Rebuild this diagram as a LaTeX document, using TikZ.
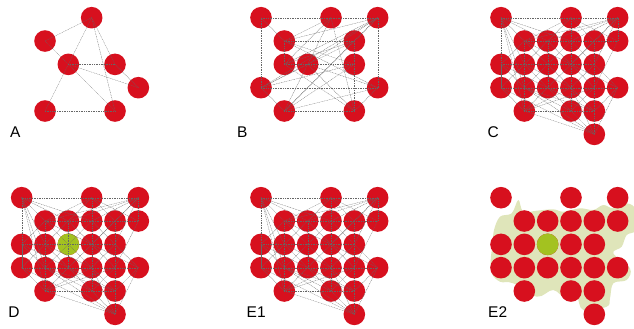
\documentclass[tikz,border=0pt]{standalone}
\usepackage{fontspec}
\setmainfont{Liberation Sans}
\usepackage{xcolor}
\usepackage{tikz}

\definecolor{cellred}{RGB}{215,16,30}
\definecolor{cellgreen}{RGB}{163,194,32}
\definecolor{haze}{RGB}{223,229,186}

\newcommand{\cellgap}{23.33}
% cells of panels C, D, E1, E2 (column/row)
\newcommand{\fullset}{0/0,3/0,5/0,1/1,2/1,3/1,4/1,5/1,0/2,1/2,2/2,3/2,4/2,0/3,1/3,2/3,3/3,4/3,5/3,1/4,3/4,4/4,4/5}
\newcommand{\meshedges}{00/30,30/50,00/11,00/21,00/31,00/02,00/12,00/03,00/13,00/14,30/21,30/31,30/41,30/11,30/51,50/51,50/41,50/31,50/21,50/11,50/42,50/32,11/21,21/31,31/41,41/51,02/12,12/22,22/32,32/42,03/13,13/23,23/33,33/43,43/53,11/12,12/13,13/14,21/22,22/23,31/32,32/33,33/34,41/42,42/43,43/44,44/45,02/03,11/22,21/32,31/42,12/23,22/33,32/43,21/12,31/22,41/32,22/13,32/23,42/33,23/34,23/14,33/44,43/34,02/13,12/03,11/32,02/23,12/33,13/34,23/44,13/44,14/34,14/44,14/43,14/33,45/14,45/03,45/34,45/33,45/53,45/13,53/44,53/42,53/32,51/43,02/11,03/14}

\begin{document}
\begin{tikzpicture}[
  x=1pt,y=-1pt,
  dot/.style={circle,fill=cellred,inner sep=0pt,minimum size=21.6pt},
  seed/.style={dot,fill=cellgreen},
  link/.style={black!60,line width=0.28pt,dash pattern=on 1pt off 0.7pt},
  tag/.style={font=\fontsize{15.5}{16}\selectfont,anchor=base west,inner sep=0pt},
  blob/.style={fill=haze,draw=none}
]
\useasboundingbox (0,0) rectangle (634,329);

% A
\begin{scope}[shift={(21.7,17.7)}]
  \foreach \c/\r in {3/0,1/1,2/2,4/2,5/3,1/4,4/4}
    \node[dot] (a\c\r) at (\c*\cellgap,\r*\cellgap) {};
  \foreach \u/\v in {30/11,30/22,30/42,30/44,11/22,22/42,22/53,22/14,22/44,14/44,42/53}
    \draw[link] (a\u.center) -- (a\v.center);
\end{scope}

% B
\begin{scope}[shift={(261,17.7)}]
  \foreach \c/\r in {0/0,3/0,5/0,1/1,4/1,1/2,2/2,4/2,0/3,5/3,1/4,4/4}
    \node[dot] (b\c\r) at (\c*\cellgap,\r*\cellgap) {};
  \foreach \u/\v in {00/30,30/50,00/03,50/53,03/53,14/44,00/11,03/14,53/44,11/41,12/22,22/42,11/12,41/42,42/44,50/11,50/12,50/22,50/41,50/03,50/14,30/11,30/22,30/44,30/12,03/22,03/41,03/42,14/22,14/41,14/42,14/53,22/44,22/53,11/42,41/12,12/44,11/53}
    \draw[link] (b\u.center) -- (b\v.center);
\end{scope}

% C
\begin{scope}[shift={(501,17.7)}]
  \foreach \c/\r in \fullset
    \node[dot] (c\c\r) at (\c*\cellgap,\r*\cellgap) {};
  \foreach \u/\v in \meshedges
    \draw[link] (c\u.center) -- (c\v.center);
\end{scope}

% D
\begin{scope}[shift={(21.7,197.7)}]
  \foreach \c/\r in \fullset
    \node[dot] (d\c\r) at (\c*\cellgap,\r*\cellgap) {};
  \node[seed] (dfocus) at (d22) {};
  \foreach \u/\v in \meshedges
    \draw[link] (d\u.center) -- (d\v.center);
\end{scope}

% E1
\begin{scope}[shift={(261,197.7)}]
  \foreach \c/\r in \fullset
    \node[dot] (e\c\r) at (\c*\cellgap,\r*\cellgap) {};
  \foreach \u/\v in \meshedges
    \draw[link] (e\u.center) -- (e\v.center);
\end{scope}

% E2
\fill[blob] plot[smooth cycle,tension=0.6] coordinates {
  (490.7,260) (492.7,243.3) (494,230) (500,216.7) (511.7,213.3) (518.3,200)
  (523.3,211.7) (536.7,210.7) (553.3,209.3) (563.3,211.7) (580,208.3)
  (593.3,210) (603.3,205) (613.3,208.3) (626.7,203.3) (636,210) (636,230)
  (626.7,235) (621.7,246.7) (613.3,253.3) (630,268.3) (626.7,280)
  (613.3,283.3) (610,298.3) (606.7,306.7) (583.3,310) (576.7,296.7)
  (566.7,300) (553.3,290) (536.7,296.7) (513.3,283.3) (500,281.7) (491.7,273.3)};
\begin{scope}[shift={(501,197.7)}]
  \foreach \c/\r in \fullset
    \node[dot] (f\c\r) at (\c*\cellgap,\r*\cellgap) {};
  \node[seed] (ffocus) at (f22) {};
\end{scope}

\node[tag] (tagA) at (10,137.3) {A};
\node[tag] (tagB) at (237,137.3) {B};
\node[tag] (tagC) at (487.5,137.7) {C};
\node[tag] (tagD) at (8.2,317.3) {D};
\node[tag] (tagE1) at (246.5,317.7) {E1};
\node[tag] (tagE2) at (488,317.7) {E2};
\end{tikzpicture}
\end{document}
